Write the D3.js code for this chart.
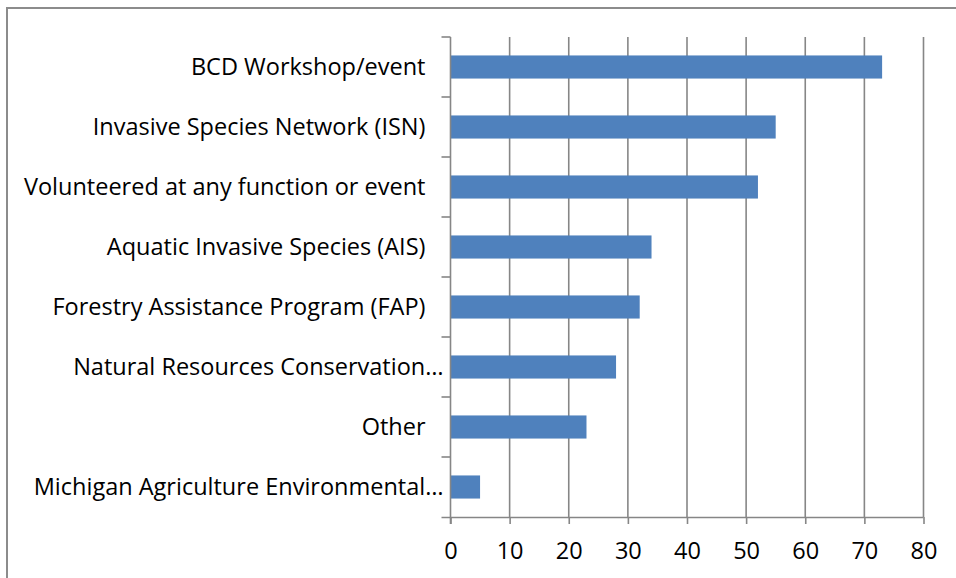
<!DOCTYPE html>
<html lang="en">
<head>
<meta charset="UTF-8">
<title>Participation chart</title>
<script src="https://d3js.org/d3.v7.min.js"></script>
<style>
  body { margin: 0; background: #fff; }
  svg { display: block; }
</style>
</head>
<body>
<script>

    // categories from top to bottom, as shown on the chart
    var categories = [
        "BCD Workshop/event",
        "Invasive Species Network (ISN)",
        "Volunteered at any function or event",
        "Aquatic Invasive Species (AIS)",
        "Forestry Assistance Program (FAP)",
        "Natural Resources Conservation…",
        "Other",
        "Michigan Agriculture Environmental…"
    ];
    var counts = [73, 55, 52, 34, 32, 28, 23, 5];
    var xTicks = [0, 10, 20, 30, 40, 50, 60, 70, 80];

    var width = 956, height = 578;
    var margin = {top: 37, right: 32.5, bottom: 61, left: 450.5};

    var font = "'Open Sans', sans-serif";
    var gridColor = "#868686";

    var svg = d3.select("body").append("svg")
        .attr("width", width)
        .attr("height", height);

    // chart area border (only top/left visible in the picture)
    svg.append("rect")
        .attr("x", 7).attr("y", 8)
        .attr("width", width + 20).attr("height", height + 20)
        .attr("fill", "none")
        .attr("stroke", "#8c8c8c")
        .attr("stroke-width", 2);

    var x = d3.scaleLinear()
        .domain([0, 80])
        .range([margin.left, width - margin.right]);

    var y = d3.scaleBand()
        .domain(categories)
        .range([margin.top, height - margin.bottom])
        .paddingInner(0.615)
        .paddingOuter(0.3075);

    var band = d3.scaleBand()
        .domain(categories)
        .range([margin.top, height - margin.bottom]);

    // vertical gridlines
    svg.append("g")
        .attr("stroke", gridColor)
        .attr("stroke-width", 1.6)
        .selectAll("line")
        .data(xTicks.slice(1))
        .join("line")
        .attr("x1", d => x(d)).attr("x2", d => x(d))
        .attr("y1", margin.top).attr("y2", height - margin.bottom);

    // bars
    svg.append("g")
        .attr("fill", "#4f81bd")
        .selectAll("rect")
        .data(categories)
        .join("rect")
        .attr("x", x(0))
        .attr("y", d => y(d))
        .attr("width", (d, i) => x(counts[i]) - x(0))
        .attr("height", y.bandwidth());

    // x axis
    var xAxis = svg.append("g")
        .attr("transform", `translate(0,${height - margin.bottom})`)
        .call(d3.axisBottom(x).tickValues(xTicks).tickSize(7).tickSizeOuter(0).tickPadding(18));
    xAxis.select(".domain").attr("stroke", gridColor).attr("stroke-width", 1.6)
        .attr("d", `M${x(0) - 9},0.5H${x(80)}`);
    xAxis.selectAll(".tick line").attr("stroke", gridColor).attr("stroke-width", 1.6);
    xAxis.selectAll(".tick text")
        .attr("fill", "#000")
        .style("font", `23.5px ${font}`);

    // y axis: ticks at band boundaries
    var yg = svg.append("g");
    yg.append("line")
        .attr("x1", x(0)).attr("x2", x(0))
        .attr("y1", margin.top).attr("y2", height - margin.bottom + 7)
        .attr("stroke", gridColor).attr("stroke-width", 1.6);
    yg.selectAll("line.tk")
        .data(categories)
        .join("line")
        .attr("class", "tk")
        .attr("x1", x(0) - 9).attr("x2", x(0))
        .attr("y1", d => band(d)).attr("y2", d => band(d))
        .attr("stroke", gridColor).attr("stroke-width", 1.6);

    yg.selectAll("text")
        .data(categories)
        .join("text")
        .attr("x", d => d.endsWith("…") ? x(0) - 7 : x(0) - 25)
        .attr("y", d => band(d) + band.bandwidth() / 2)
        .attr("dy", "0.36em")
        .attr("text-anchor", "end")
        .attr("fill", "#000")
        .style("font", `23.5px ${font}`)
        .text(d => d);

</script>
</body>
</html>
